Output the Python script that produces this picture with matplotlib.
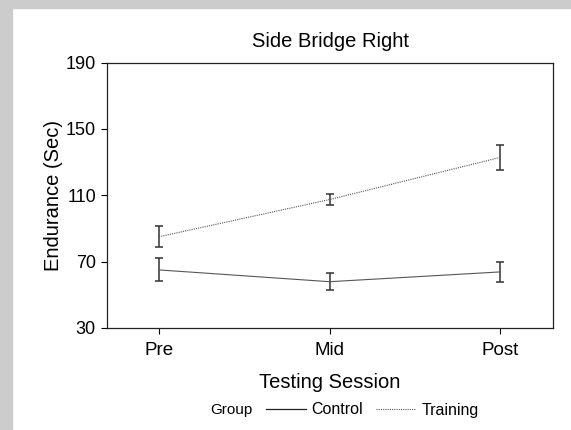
import matplotlib
matplotlib.use("Agg")
import matplotlib.pyplot as plt
from matplotlib.patches import Rectangle
from matplotlib.lines import Line2D
import numpy as np

sessions = ["Pre", "Mid", "Post"]
control_mean = [65.0, 57.9, 63.8]
control_err = [6.9, 5.0, 6.2]
training_mean = [85.0, 107.4, 132.8]
training_err = [6.3, 3.5, 7.5]
yticks = [30, 70, 110, 150, 190]

plt.rcParams['font.family'] = ['Liberation Sans', 'DejaVu Sans']

fig = plt.figure(figsize=(5.71, 4.30), dpi=100)
fig.patch.set_facecolor("white")
# grey border strips on the left and top
fig.patches.append(Rectangle((0, 0), 12 / 571, 1, transform=fig.transFigure, color="#cccccc", zorder=0))
fig.patches.append(Rectangle((0, 1 - 8 / 430), 1, 8 / 430, transform=fig.transFigure, color="#cccccc", zorder=0))

ax = fig.add_axes([107 / 571, 102 / 430, 446 / 571, 265.5 / 430])
x = np.arange(1, len(sessions) + 1)

ax.errorbar(x, control_mean, yerr=control_err, color="#555555", lw=0.8, ls="-",
            ecolor="#333333", elinewidth=1.1, capsize=3, capthick=1.1, label="Control")
ax.errorbar(x, training_mean, yerr=training_err, color="#555555", lw=0.8, ls=(0, (1, 1)),
            ecolor="#333333", elinewidth=1.1, capsize=3, capthick=1.1, label="Training")

ax.set_xlim(0.695, 3.31)
ax.set_ylim(30, 190)
ax.set_xticks(x)
ax.set_xticklabels(sessions, fontsize=13.5)
ax.set_yticks(yticks)
ax.set_yticklabels([str(v) for v in yticks], fontsize=13)
ax.tick_params(axis="x", direction="out", length=4, width=0.8, pad=6)
ax.tick_params(axis="y", direction="out", length=4, width=0.8, pad=4)
for s in ax.spines.values():
    s.set_linewidth(0.9)
    s.set_color("#222222")

ax.set_title("Side Bridge Right", fontsize=14.5, pad=11)
ax.set_xlabel("Testing Session", fontsize=14.5, labelpad=10)
ax.set_ylabel("Endurance (Sec)", fontsize=14.5, labelpad=2)

fig.text(231 / 571, 1 - 410 / 430, "Group", fontsize=11, ha="center", va="center")
h = [Line2D([], [], color="#222222", lw=0.9, ls="-"),
     Line2D([], [], color="#555555", lw=0.8, ls=(0, (1, 1)))]
fig.legend(h, ["Control", "Training"], loc="center left", bbox_to_anchor=(266 / 571, 1 - 410 / 430),
           ncol=2, frameon=False, fontsize=11.5, handlelength=2.5, handletextpad=0.35,
           columnspacing=0.8, borderpad=0, borderaxespad=0)

fig.savefig("out.png", dpi=100)
